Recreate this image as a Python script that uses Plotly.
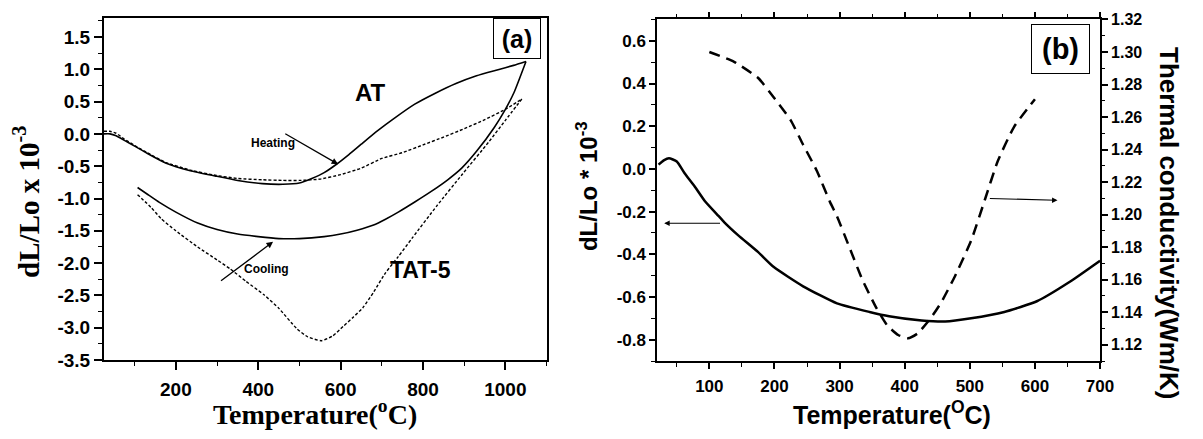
import plotly.graph_objects as go

# ---------------- Panel (a) data ----------------
at_heat_x = [25, 40, 55, 75, 100, 130, 175, 235, 295, 350, 410, 460, 500, 530, 560, 590, 620, 650, 690, 730, 780, 830, 880, 930, 980, 1020, 1050]
at_heat_y = [0.00, 0.00, -0.03, -0.10, -0.19, -0.30, -0.45, -0.57, -0.65, -0.72, -0.77, -0.78, -0.76, -0.69, -0.60, -0.47, -0.32, -0.16, 0.05, 0.24, 0.46, 0.63, 0.78, 0.90, 0.99, 1.06, 1.12]

at_cool_x = [107, 130, 160, 200, 253, 300, 350, 400, 450, 500, 560, 600, 640, 680, 709, 740, 781, 820, 860, 894, 930, 973, 1000, 1021, 1050]
at_cool_y = [-0.83, -0.93, -1.06, -1.21, -1.38, -1.48, -1.55, -1.59, -1.62, -1.62, -1.59, -1.55, -1.49, -1.41, -1.32, -1.21, -1.05, -0.89, -0.71, -0.53, -0.27, 0.10, 0.38, 0.64, 1.12]

tat_heat_x = [25, 40, 55, 75, 100, 130, 175, 235, 295, 350, 410, 460, 500, 550, 600, 650, 700, 750, 800, 850, 900, 950, 1000, 1040]
tat_heat_y = [0.04, 0.04, 0.01, -0.08, -0.18, -0.29, -0.44, -0.56, -0.64, -0.69, -0.71, -0.72, -0.72, -0.70, -0.63, -0.53, -0.38, -0.29, -0.17, -0.05, 0.08, 0.22, 0.38, 0.54]

tat_cool_x = [107, 140, 164, 200, 253, 300, 332, 370, 414, 450, 493, 520, 553, 580, 606, 630, 654, 680, 709, 740, 774, 834, 896, 959, 1000, 1040]
tat_cool_y = [-0.94, -1.14, -1.31, -1.50, -1.75, -1.95, -2.09, -2.28, -2.49, -2.70, -3.01, -3.14, -3.20, -3.13, -2.98, -2.84, -2.69, -2.45, -2.15, -1.90, -1.61, -1.11, -0.62, -0.13, 0.21, 0.54]

a_xticks = [200, 400, 600, 800, 1000]
a_xticktext = ["200", "400", "600", "800", "1000"]
a_yticks = [-3.5, -3.0, -2.5, -2.0, -1.5, -1.0, -0.5, 0.0, 0.5, 1.0, 1.5]
a_yticktext = ["-3.5", "-3.0", "-2.5", "-2.0", "-1.5", "-1.0", "-0.5", "0.0", "0.5", "1.0", "1.5"]

# ---------------- Panel (b) data ----------------
dl_x = [22, 30, 38, 50, 62, 77, 93, 114, 123, 144, 175, 199, 244, 296, 346, 376, 426, 462, 502, 553, 603, 653, 700]
dl_y = [0.02, 0.04, 0.05, 0.035, -0.02, -0.08, -0.15, -0.22, -0.25, -0.31, -0.39, -0.46, -0.55, -0.63, -0.67, -0.69, -0.71, -0.715, -0.70, -0.67, -0.62, -0.53, -0.43]

tc_x = [100, 138, 175, 199, 225, 244, 265, 285, 296, 315, 335, 356, 373, 390, 405, 420, 441, 456, 477, 502, 523, 543, 568, 600]
tc_y = [1.300, 1.294, 1.284, 1.272, 1.258, 1.243, 1.227, 1.208, 1.199, 1.180, 1.160, 1.143, 1.132, 1.126, 1.124, 1.127, 1.137, 1.146, 1.162, 1.184, 1.209, 1.233, 1.254, 1.271]

b_xticks = [100, 200, 300, 400, 500, 600, 700]
b_xticktext = ["100", "200", "300", "400", "500", "600", "700"]
b_yticks = [-0.8, -0.6, -0.4, -0.2, 0.0, 0.2, 0.4, 0.6]
b_yticktext = ["-0.8", "-0.6", "-0.4", "-0.2", "0.0", "0.2", "0.4", "0.6"]
b_y2ticks = [1.12, 1.14, 1.16, 1.18, 1.20, 1.22, 1.24, 1.26, 1.28, 1.30, 1.32]
b_y2ticktext = ["1.12", "1.14", "1.16", "1.18", "1.20", "1.22", "1.24", "1.26", "1.28", "1.30", "1.32"]

W, H = 1203, 439
SANS = "Liberation Sans"
SERIF = "Liberation Serif"


def bold(labels):
    return ["<b>%s</b>" % t for t in labels]


fig = go.Figure()

solid_a = dict(color="black", width=1.6, shape="spline", smoothing=0.5)
dot_a = dict(color="black", width=1.4, dash="3px,2px", shape="spline", smoothing=0.5)

fig.add_trace(go.Scatter(x=at_heat_x, y=at_heat_y, mode="lines", line=solid_a, xaxis="x", yaxis="y", showlegend=False))
fig.add_trace(go.Scatter(x=at_cool_x, y=at_cool_y, mode="lines", line=solid_a, xaxis="x", yaxis="y", showlegend=False))
fig.add_trace(go.Scatter(x=tat_heat_x, y=tat_heat_y, mode="lines", line=dot_a, xaxis="x", yaxis="y", showlegend=False))
fig.add_trace(go.Scatter(x=tat_cool_x, y=tat_cool_y, mode="lines", line=dot_a, xaxis="x", yaxis="y", showlegend=False))

fig.add_trace(go.Scatter(x=dl_x, y=dl_y, mode="lines", line=dict(color="black", width=2.5, shape="spline", smoothing=0.5),
                         xaxis="x2", yaxis="y2", showlegend=False))
fig.add_trace(go.Scatter(x=tc_x, y=tc_y, mode="lines", line=dict(color="black", width=2.5, dash="11px,7px", shape="spline", smoothing=0.5),
                         xaxis="x2", yaxis="y3", showlegend=False))


def px_x(p):
    return p / W


def px_y(p):
    return 1 - p / H


tickfont_a = dict(family=SANS, size=19, color="black")
tickfont_b = dict(family=SANS, size=17, color="black")
tickfont_b3 = dict(family=SANS, size=16, color="black")
minor_style = dict(ticks="outside", tickwidth=1.2, tickcolor="black")

fig.update_layout(
    width=W, height=H,
    margin=dict(l=0, r=0, t=0, b=0),
    paper_bgcolor="white", plot_bgcolor="white",
    xaxis=dict(domain=[px_x(105), px_x(553)], range=[25, 1100], anchor="y",
               tickmode="array", tickvals=a_xticks, ticktext=bold(a_xticktext),
               ticks="outside", ticklen=8, tickwidth=1.5, tickcolor="black", ticklabelstandoff=3,
               minor=dict(tickmode="linear", tick0=0, dtick=100, ticklen=4, **minor_style),
               showline=True, linecolor="black", linewidth=1.6, mirror=True,
               showgrid=False, zeroline=False, tickfont=tickfont_a),
    yaxis=dict(domain=[px_y(368), px_y(10)], range=[-3.5, 1.8], anchor="x",
               tickmode="array", tickvals=a_yticks, ticktext=bold(a_yticktext),
               ticks="outside", ticklen=8, tickwidth=1.5, tickcolor="black",
               minor=dict(tickmode="linear", tick0=0, dtick=0.25, ticklen=4, **minor_style),
               showline=True, linecolor="black", linewidth=1.6, mirror=True,
               showgrid=False, zeroline=False, tickfont=tickfont_a),
    xaxis2=dict(domain=[px_x(665), px_x(1113)], range=[20, 700], anchor="y2",
                tickmode="array", tickvals=b_xticks, ticktext=bold(b_xticktext),
                ticks="outside", ticklen=6, tickwidth=1.5, tickcolor="black", ticklabelstandoff=3,
                minor=dict(tickmode="linear", tick0=0, dtick=50, ticklen=4, **minor_style),
                showline=True, linecolor="black", linewidth=1.6, mirror="ticks",
                showgrid=False, zeroline=False, tickfont=tickfont_b),
    yaxis2=dict(domain=[px_y(369), px_y(12)], range=[-0.9, 0.7], anchor="x2",
                tickmode="array", tickvals=b_yticks, ticktext=bold(b_yticktext),
                ticks="outside", ticklen=6, tickwidth=1.5, tickcolor="black",
                minor=dict(tickmode="linear", tick0=0, dtick=0.1, ticklen=4, **minor_style),
                showline=True, linecolor="black", linewidth=1.8,
                showgrid=False, zeroline=False, tickfont=tickfont_b),
    yaxis3=dict(range=[1.11, 1.32], overlaying="y2", side="right", anchor="x2",
                tickmode="array", tickvals=b_y2ticks, ticktext=bold(b_y2ticktext),
                ticks="outside", ticklen=6, tickwidth=1.5, tickcolor="black",
                minor=dict(tickmode="linear", tick0=1.11, dtick=0.01, ticklen=3, **minor_style),
                showline=True, linecolor="black", linewidth=1.6,
                showgrid=False, zeroline=False, tickfont=tickfont_b3),
)

ann = []
# axis titles
ann.append(dict(text="<b>dL/Lo x 10<sup>-3</sup></b>", xref="paper", yref="paper", x=px_x(27), y=px_y(203),
                textangle=-90, showarrow=False, xanchor="center", yanchor="middle",
                font=dict(family=SERIF, size=29, color="black")))
ann.append(dict(text="<b>Temperature(<sup>o</sup>C)</b>", xref="paper", yref="paper", x=px_x(319), y=px_y(423),
                showarrow=False, xanchor="center", yanchor="middle",
                font=dict(family=SERIF, size=28, color="black")))
ann.append(dict(text="<b>dL/Lo * 10<sup>-3</sup></b>", xref="paper", yref="paper", x=px_x(594), y=px_y(186),
                textangle=-90, showarrow=False, xanchor="center", yanchor="middle",
                font=dict(family=SANS, size=24, color="black")))
ann.append(dict(text="<b>Temperature(<sup>O</sup>C)</b>", xref="paper", yref="paper", x=px_x(903), y=px_y(423),
                showarrow=False, xanchor="center", yanchor="middle",
                font=dict(family=SANS, size=25, color="black")))
ann.append(dict(text="<b>Thermal conductivity(Wm/K)</b>", xref="paper", yref="paper", x=px_x(1183), y=px_y(225),
                textangle=90, showarrow=False, xanchor="center", yanchor="middle",
                font=dict(family=SANS, size=26, color="black")))
# panel labels
ann.append(dict(text="<b>(a)</b>", xref="paper", yref="paper", x=px_x(523.5), y=px_y(32), showarrow=False,
                xanchor="center", yanchor="middle", width=44, height=37, borderpad=1,
                bordercolor="black", borderwidth=1, bgcolor="white",
                font=dict(family=SANS, size=25, color="black")))
ann.append(dict(text="<b>(b)</b>", xref="paper", yref="paper", x=px_x(1073), y=px_y(42.5), showarrow=False,
                xanchor="center", yanchor="middle", width=55, height=46, borderpad=1,
                bordercolor="black", borderwidth=1, bgcolor="white",
                font=dict(family=SANS, size=29, color="black")))
# curve labels panel (a)
ann.append(dict(text="<b>AT</b>", xref="x", yref="y", x=673, y=0.64, showarrow=False,
                font=dict(family=SANS, size=24, color="black")))
ann.append(dict(text="<b>TAT-5</b>", xref="x", yref="y", x=793, y=-2.11, showarrow=False,
                font=dict(family=SANS, size=23, color="black")))
ann.append(dict(text="<b>Heating</b>", xref="x", yref="y", x=436, y=-0.14, showarrow=False,
                font=dict(family=SANS, size=12, color="black")))
ann.append(dict(text="<b>Cooling</b>", xref="x", yref="y", x=421, y=-2.09, showarrow=False,
                font=dict(family=SANS, size=12, color="black")))
# arrows panel (a)
ann.append(dict(text="", xref="x", yref="y", axref="x", ayref="y", x=594, y=-0.47, ax=462, ay=0.015,
                showarrow=True, arrowhead=2, arrowsize=1, arrowwidth=1.3, arrowcolor="black"))
ann.append(dict(text="", xref="x", yref="y", axref="x", ayref="y", x=436, y=-1.67, ax=306, ay=-2.29,
                showarrow=True, arrowhead=2, arrowsize=1, arrowwidth=1.3, arrowcolor="black"))
# arrows panel (b)
ann.append(dict(text="", xref="x2", yref="y2", axref="x2", ayref="y2", x=30.6, y=-0.2546, ax=118.7, ay=-0.2546,
                showarrow=True, arrowhead=2, arrowsize=1, arrowwidth=1.1, arrowcolor="black"))
ann.append(dict(text="", xref="x2", yref="y3", axref="x2", ayref="y3", x=634.7, y=1.2088, ax=528.5, ay=1.210,
                showarrow=True, arrowhead=2, arrowsize=1, arrowwidth=1.1, arrowcolor="black"))

fig.update_layout(annotations=ann)
fig.write_html("out.html")
